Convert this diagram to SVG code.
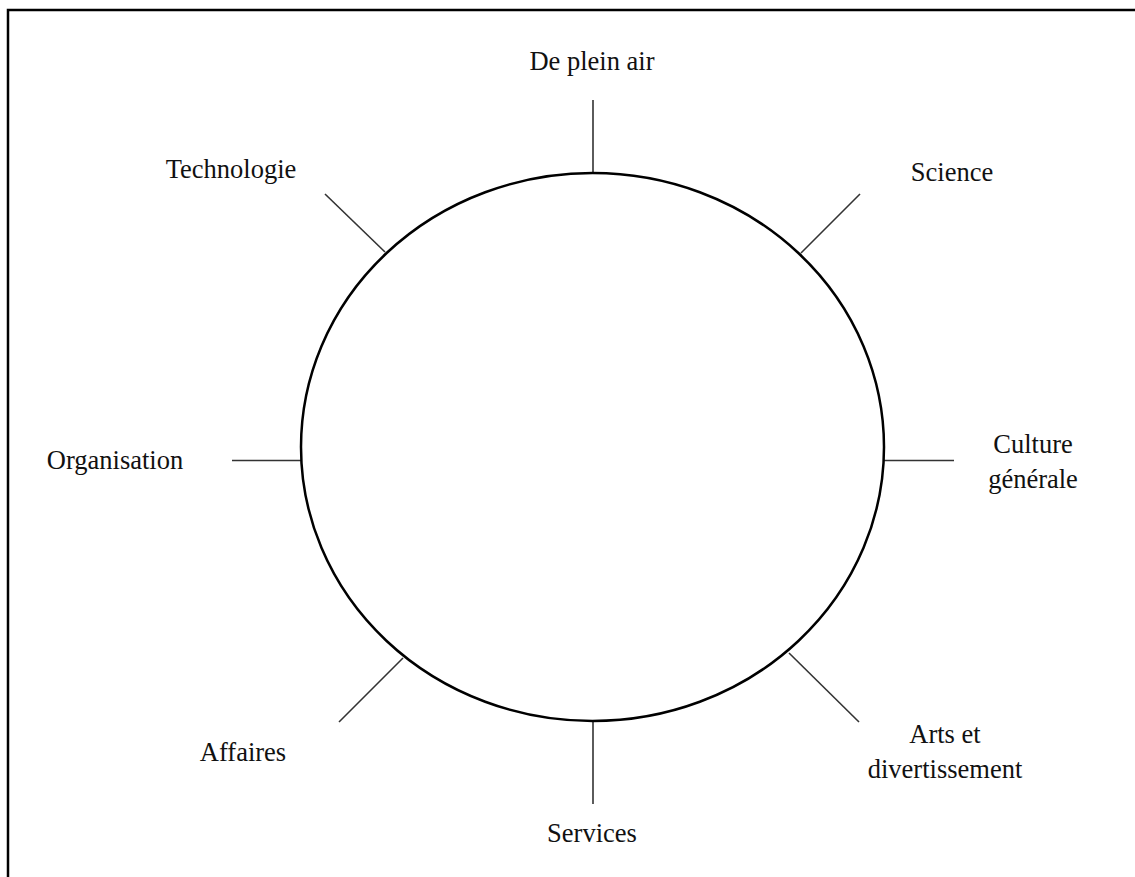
<svg xmlns="http://www.w3.org/2000/svg" width="1135" height="877" viewBox="0 0 1135 877">
<style>
.t{font-family:"Liberation Serif","Times New Roman",serif;font-size:26.5px;fill:#111;text-anchor:middle}
.s{stroke:#333;stroke-width:1.6;fill:none}
</style>
<rect x="0" y="0" width="1135" height="877" fill="#fff"/>
<path d="M8,877 V10 H1135" fill="none" stroke="#000" stroke-width="2.5"/>
<g id="connectors">
<line class="s" x1="593" y1="100" x2="593" y2="173"/>
<line class="s" x1="593" y1="721" x2="593" y2="804"/>
<line class="s" x1="232" y1="460.5" x2="301" y2="460.5"/>
<line class="s" x1="884" y1="460.5" x2="954" y2="460.5"/>
<line class="s" x1="325" y1="194" x2="385" y2="252"/>
<line class="s" x1="860" y1="194" x2="801" y2="253"/>
<line class="s" x1="339" y1="722" x2="403" y2="658"/>
<line class="s" x1="789" y1="653" x2="859" y2="722"/>
</g>
<g id="hub"><ellipse cx="592.5" cy="447" rx="291.5" ry="274" fill="#fff" stroke="#000" stroke-width="2.5"/></g>
<g id="n1"><text class="t" x="592" y="70">De plein air</text></g>
<g id="n2"><text class="t" x="952" y="181">Science</text></g>
<g id="n3"><text class="t" x="1033" y="453">Culture</text><text class="t" x="1033" y="488">générale</text></g>
<g id="n4"><text class="t" x="945" y="743">Arts et</text><text class="t" x="945" y="778">divertissement</text></g>
<g id="n5"><text class="t" x="592" y="842">Services</text></g>
<g id="n6"><text class="t" x="243" y="761">Affaires</text></g>
<g id="n7"><text class="t" x="115" y="469">Organisation</text></g>
<g id="n8"><text class="t" x="231" y="178">Technologie</text></g>
</svg>
